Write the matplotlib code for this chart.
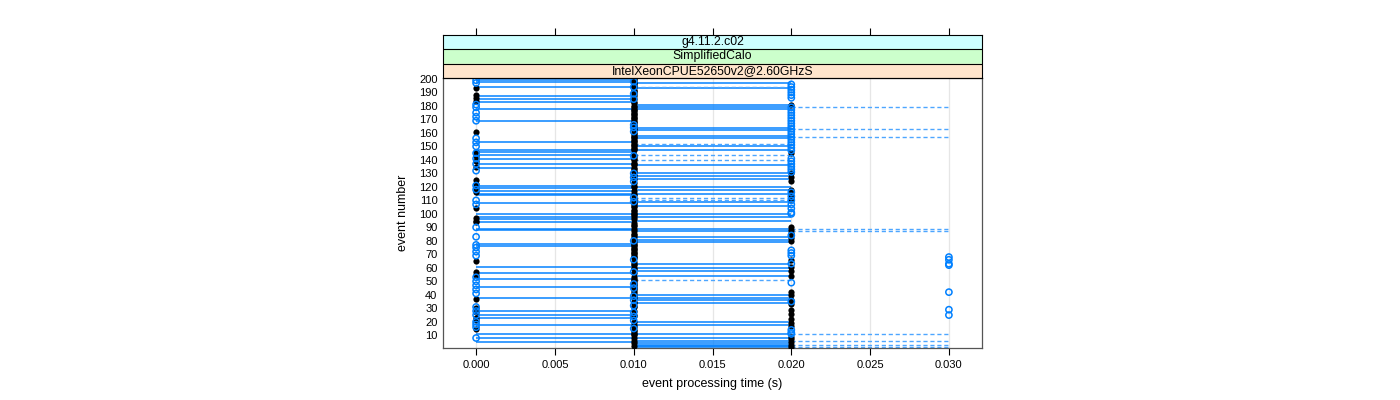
import numpy as np
import matplotlib
matplotlib.use("Agg")
import matplotlib.pyplot as plt

plt.rcParams['font.family'] = ['Liberation Sans', 'DejaVu Sans']

# strip labels, outermost first
strips = ["g4.11.2.c02", "SimplifiedCalo", "IntelXeonCPUE52650v2@2.60GHzS"]
strip_colors = ["#ccffff", "#ccffcc", "#ffe5cc"]

x_ticks = [0.000, 0.005, 0.010, 0.015, 0.020, 0.025, 0.030]
x_labels = ["0.000", "0.005", "0.010", "0.015", "0.020", "0.025", "0.030"]
y_ticks = list(range(10, 201, 10))

# black series: time bin per event (units of 0.01 s), events 1..200
black_bin = [
    2, 1, 2, 1, 2, 1, 2, 1, 2, 1,
    1, 1, 1, 1, 0, 1, 2, 1, 2, 1,
    0, 2, 0, 1, 1, 2, 0, 1, 2, 0,
    1, 1, 2, 1, 1, 2, 0, 1, 1, 2,
    1, 2, 1, 1, 1, 1, 1, 1, 1, 1,
    1, 1, 1, 2, 0, 1, 0, 2, 1, 1,
    2, 1, 1, 1, 0, 2, 1, 1, 1, 1,
    1, 1, 1, 1, 1, 1, 1, 1, 1, 2,
    1, 2, 1, 1, 1, 2, 1, 2, 1, 2,
    1, 1, 1, 0, 0, 1, 0, 1, 1, 1,
    1, 1, 1, 0, 1, 1, 1, 1, 1, 1,
    2, 1, 2, 1, 1, 0, 1, 2, 0, 1,
    1, 0, 1, 2, 0, 1, 2, 1, 1, 2,
    1, 1, 1, 1, 0, 1, 1, 1, 0, 1,
    1, 1, 0, 1, 2, 0, 1, 1, 1, 1,
    1, 1, 1, 1, 1, 1, 1, 1, 1, 1,
    0, 1, 1, 1, 1, 1, 1, 1, 1, 1,
    1, 1, 1, 1, 1, 1, 1, 1, 1, 1,
    2, 1, 1, 0, 1, 0, 1, 0, 1, 1,
    1, 1, 0, 1, 1, 1, 1, 1, 1, 1,
]

# blue series: visible open circles, event numbers per time
blue_000 = [199, 197, 181, 179, 175, 172, 169, 156, 153, 150, 145, 141, 137, 132,
            121, 118, 110, 107, 90, 83, 77, 75, 72, 69, 53, 50, 47, 44, 41, 31,
            28, 25, 20, 18, 16, 8]
blue_010 = [198, 194, 189, 185, 166, 164, 161, 143, 130, 127, 124, 112, 109, 80,
            66, 57, 48, 45, 39, 36, 32, 27, 24, 21, 15]
blue_020 = [196, 194, 192, 190, 188, 186, 179, 177, 175, 173, 171, 169, 167, 165,
            163, 161, 159, 157, 155, 153, 151, 149, 147, 141, 139, 137, 135, 133,
            131, 116, 113, 110, 107, 104, 101, 100, 84, 73, 71, 69, 63, 49, 35,
            14, 12, 11]
blue_030 = [68, 66, 63, 62, 42, 29, 25]

# horizontal connections: event numbers per time span
solid_0_10 = [199, 198, 194, 187, 185, 183, 178, 169, 153, 147, 146, 144, 141, 137,
              134, 121, 119, 117, 115, 114, 108, 100, 98, 96, 94, 89, 88, 78, 76,
              61, 56, 52, 46, 38, 28, 25, 23, 18, 11, 8, 5]
solid_10_20 = [197, 193, 181, 179, 178, 164, 162, 158, 156, 150, 147, 136, 130, 128,
               126, 120, 118, 115, 109, 106, 100, 98, 95, 89, 87, 83, 81, 79, 63,
               60, 58, 54, 40, 38, 36, 34, 20, 18, 11, 8, 6, 4, 3, 2, 1]
dash_10_20 = [194, 152, 144, 140, 112, 110, 51]
dash_20_30 = [179, 163, 157, 89, 87, 11, 6, 3, 1]

W, H = 1400, 400
fig = plt.figure(figsize=(W / 100, H / 100), dpi=100)

L, R, T, B = 443, 982, 78, 348
ax = fig.add_axes([L / W, 1 - B / H, (R - L) / W, (B - T) / H])
sax = fig.add_axes([L / W, 1 - T / H, (R - L) / W, (T - 35) / H])

xlim = (-0.0021, 0.0321)
ax.set_xlim(*xlim)
ax.set_ylim(0.6, 200.7)

for xt in x_ticks:
    ax.axvline(xt, color="#e6e6e6", lw=0.9, zorder=0)

blue = "#0080ff"
ax.hlines(solid_0_10, 0.0, 0.01, color=blue, lw=1.2, alpha=0.9, zorder=2)
ax.hlines(solid_10_20, 0.01, 0.02, color=blue, lw=1.2, alpha=0.9, zorder=2)
ax.hlines(dash_10_20, 0.01, 0.02, color="#4da6ff", lw=1.0,
          linestyles=(0, (3, 2)), zorder=2)
ax.hlines(dash_20_30, 0.02, 0.03, color="#4da6ff", lw=1.0,
          linestyles=(0, (3, 2)), zorder=2)

events = np.arange(1, len(black_bin) + 1)
ax.scatter(np.array(black_bin) * 0.01, events, s=20, color="black",
           linewidths=0, zorder=3)

for t, ev in [(0.0, blue_000), (0.01, blue_010), (0.02, blue_020), (0.03, blue_030)]:
    ax.scatter(np.full(len(ev), t), ev, s=20, facecolors="none",
               edgecolors=blue, linewidths=1.1, zorder=4)

ax.set_xticks(x_ticks)
ax.set_xticklabels(x_labels)
ax.set_yticks(y_ticks)
ax.tick_params(axis="x", direction="out", length=5, width=0.8, pad=3.5,
               labelsize=8, colors="black")
ax.tick_params(axis="y", length=0, pad=4, labelsize=8)
for sp in ax.spines.values():
    sp.set_color("#555555")
    sp.set_linewidth(0.9)

# strips
sax.set_xlim(*xlim)
sax.set_ylim(0, 3)
for i, (txt, col) in enumerate(zip(strips, strip_colors)):
    y0 = 2 - i
    sax.axhspan(y0, y0 + 1, color=col, zorder=0)
    sax.axhline(y0, color="black", lw=0.8)
    sax.text(np.mean(xlim), y0 + 0.5, txt, ha="center", va="center",
             fontsize=8.8)
sax.set_xticks(x_ticks)
sax.set_yticks([])
sax.xaxis.tick_top()
sax.tick_params(axis="x", direction="out", length=5, width=0.8, labeltop=False)
for sp in sax.spines.values():
    sp.set_color("black")
    sp.set_linewidth(0.8)

fig.text((L + R) / 2 / W, 1 - 384 / H, "event processing time (s)",
         ha="center", va="center", fontsize=9)
fig.text(403 / W, 1 - (T + B) / 2 / H, "event number", rotation=90,
         ha="center", va="center", fontsize=9)

fig.savefig("out.png", dpi=100)
